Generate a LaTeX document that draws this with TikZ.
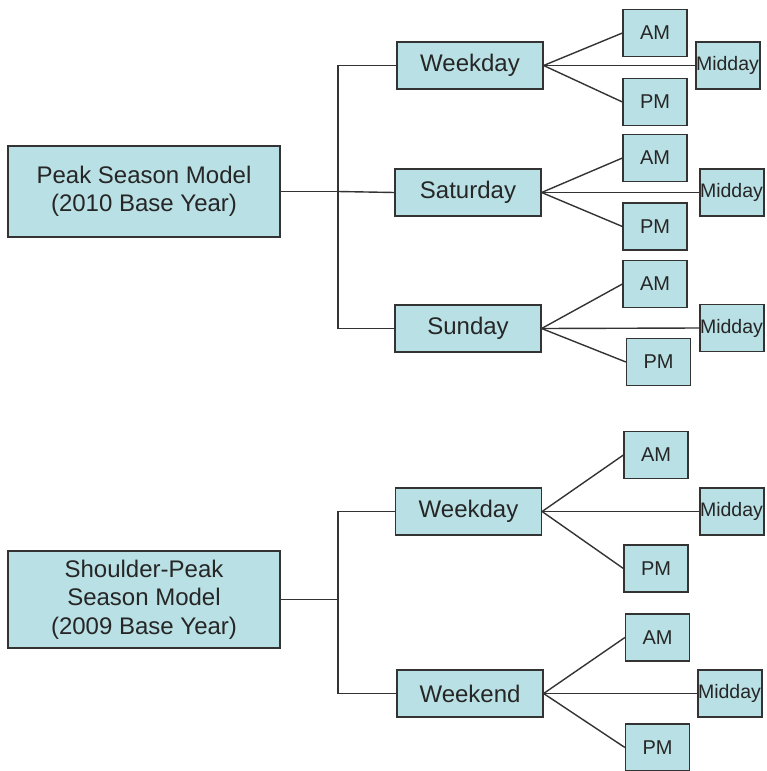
\documentclass[tikz,border=0pt]{standalone}
\usepackage{fontspec}
\setmainfont{Liberation Sans}
\usetikzlibrary{arrows.meta}
\definecolor{boxfill}{HTML}{B9E0E4}
\definecolor{lineclr}{HTML}{333333}
\hbadness=10000 \hfuzz=100pt

\begin{document}
\begin{tikzpicture}[
      x=1pt, y=-1pt,
      model/.style={rectangle, draw=lineclr, fill=boxfill, line width=1.2pt,
                    minimum width=272pt, inner sep=0pt, align=center,
                    font=\fontsize{24}{28.5}\selectfont, text=black!85},
      day/.style={rectangle, draw=lineclr, fill=boxfill, line width=1.2pt,
                  minimum width=146pt, minimum height=47pt, inner sep=0pt,
                  font=\fontsize{24}{28}\selectfont, text=black!85},
      slot/.style={rectangle, draw=lineclr, fill=boxfill, line width=1.2pt,
                   minimum width=64pt, minimum height=47pt, inner sep=0pt,
                   font=\fontsize{20}{24}\selectfont, text=black!85},
      mid/.style={slot, text width=64pt, align=left, font=\fontsize{19.5}{24}\selectfont},
      conn/.style={draw=lineclr, line width=1.4pt}
    ]
      \useasboundingbox (0,0) rectangle (766,771);

      % peak season
      \node[model, minimum height=91pt] (peak) at (144,191.5) {Peak Season Model\\(2010 Base Year)};
      \node[day] (wkA)  at (470,65.5)  {Weekday};
      \node[day] (satA) at (468,192.5) {Saturday};
      \node[day] (sunA) at (468,328.5) {Sunday};

      \node[slot] (amA)  at (655,33)    {AM};
      \node[mid]  (midA) at (728,65.5)  {Midday};
      \node[slot] (pmA)  at (655,102)   {PM};
      \node[slot] (amB)  at (655,158)   {AM};
      \node[mid]  (midB) at (732,192.5) {Midday};
      \node[slot] (pmB)  at (655,226.5) {PM};
      \node[slot] (amC)  at (655,284)   {AM};
      \node[mid]  (midC) at (732,328)   {Midday};
      \node[slot] (pmC)  at (658.5,362) {PM};

      % shoulder-peak season
      \node[model, minimum height=97pt] (shld) at (144,599.5) {Shoulder-Peak\\Season Model\\(2009 Base Year)};
      \node[day] (wkB)  at (468.5,511.5) {Weekday};
      \node[day] (wend) at (470,693.5)   {Weekend};

      \node[slot] (amD)  at (656,455)     {AM};
      \node[mid]  (midD) at (732,511.5)   {Midday};
      \node[slot] (pmD)  at (656,568.5)   {PM};
      \node[slot] (amE)  at (657.5,637.5) {AM};
      \node[mid]  (midE) at (730,693.5)   {Midday};
      \node[slot] (pmE)  at (657.5,747.5) {PM};

      \coordinate (busA) at (338,191.5);
      \coordinate (busB) at (338,599.5);

      \draw[conn] (peak.east) -- (busA);
      \draw[conn] (busA) |- (wkA.west);
      \draw[conn] (busA) |- (sunA.west);
      \draw[conn] (busA) -- (satA.west);
      \draw[conn] (shld.east) -- (busB);
      \draw[conn] (busB) |- (wkB.west);
      \draw[conn] (busB) |- (wend.west);

      \foreach \d/\a/\m/\p in {wkA/amA/midA/pmA, satA/amB/midB/pmB, sunA/amC/midC/pmC,
                               wkB/amD/midD/pmD, wend/amE/midE/pmE}{
        \draw[conn] (\d.east) -- (\a.west);
        \draw[conn] (\d.east) -- (\m.west);
        \draw[conn] (\d.east) -- (\p.west);
      }
    \end{tikzpicture}
\end{document}
